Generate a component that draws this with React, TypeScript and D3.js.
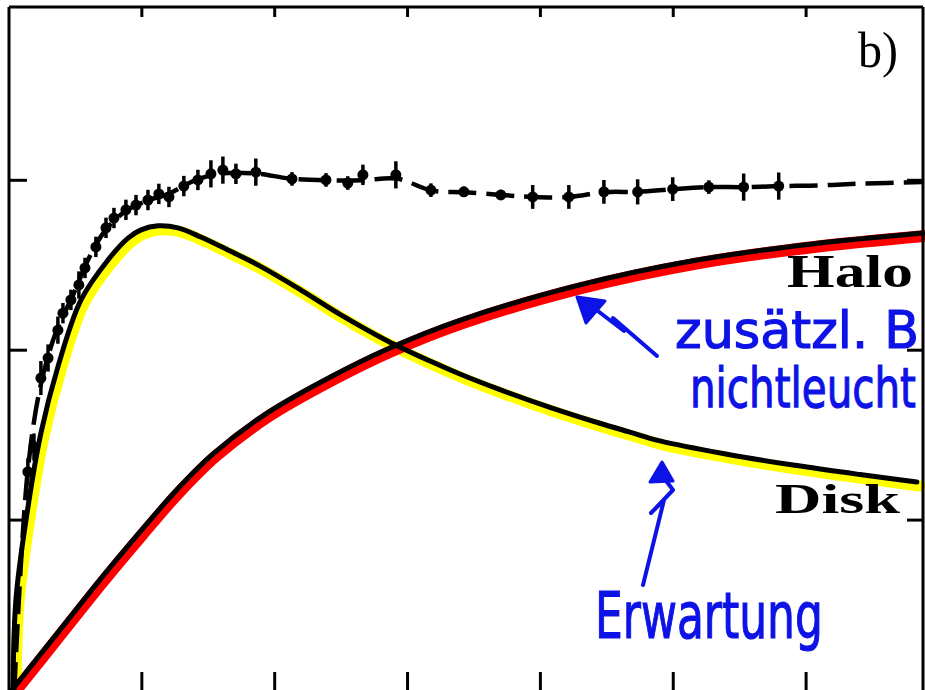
import React, { useLayoutEffect, useRef, useState } from "react";
import * as d3 from "d3";

const W = 925;
const H = 690;

// Measured rotation curve: radius (kpc), circular speed (km/s), error (km/s)
const obsRadius = [
  0.71, 0.94, 1.2, 1.47, 1.84, 2.03, 2.33, 2.63, 2.86, 3.27, 3.65, 3.95, 4.4,
  4.78, 5.23, 5.64, 6.02, 6.58, 7.11, 7.6, 8.05, 8.54, 9.29, 10.65, 11.93,
  12.75, 13.32, 14.56, 15.88, 17.12, 18.51, 19.71, 21.07, 22.39, 23.66, 24.98,
  26.34, 27.65, 28.97,
];
const obsSpeed = [
  64.2, 71.5, 91.8, 97.7, 105.9, 110.9, 114.8, 119.2, 124.2, 130.4, 136.0,
  138.9, 141.3, 142.7, 144.2, 146.0, 145.1, 148.3, 150.1, 151.9, 153.0, 151.9,
  152.4, 150.4, 150.1, 149.2, 151.6, 151.6, 147.1, 146.6, 145.7, 145.1, 145.1,
  146.6, 146.6, 147.4, 148.0, 148.0, 148.3,
];
const obsError = [
  4, 4, 5, 4, 4, 3, 3, 4, 3, 3, 3, 3, 3, 3, 3, 3, 3, 3, 3, 4, 4, 3, 4, 2, 2, 2,
  3, 4, 2, 1.5, 1.5, 3.5, 3.5, 3.5, 3.7, 3.5, 2, 4, 4,
];

// Fitted total rotation curve (dashed)
const totalRadius = [
  0.2, 0.7, 1.2, 1.8, 2.4, 3.0, 3.6, 4.4, 5.2, 6.0, 7.0, 8.0, 9.3, 10.6, 12.0,
  13.3, 14.6, 15.9, 17.1, 18.5, 19.7, 21.1, 22.4, 23.7, 25.0, 26.3, 27.7, 29.0,
  30.5, 32.0, 34.4,
];
const totalSpeed = [
  0, 64, 90, 106, 116, 127, 135, 141, 144, 146, 150, 152, 152, 150.5, 150, 150,
  150.5, 147, 146.5, 145.7, 145.1, 145.1, 146.5, 146.6, 147.4, 148, 148, 148.3,
  148.5, 149, 149.5,
];

// Disk component
const diskRadius = [
  0.15, 0.26, 0.64, 1.2, 1.84, 2.71, 3.72, 4.48, 4.97, 5.61, 6.36, 7.22, 8.24,
  9.37, 10.99, 12.49, 14.23, 15.85, 16.97, 18.48, 20.36, 22.24, 23.37, 24.5,
  27.02, 29.51, 32.03, 34.17,
];
const diskSpeed = [
  0, 26.5, 50.0, 75.6, 95.1, 114.8, 126.5, 133.0, 135.4, 136.6, 136.0, 133.3,
  129.5, 125.1, 117.7, 110.4, 102.8, 96.8, 93.0, 88.4, 83.2, 78.5, 75.9, 73.3,
  69.4, 66.2, 63.4, 61.2,
];

// Halo component
const haloRadius = [
  0.11, 1.92, 3.42, 4.93, 6.3, 7.68, 9.71, 12.19, 14.23, 16.97, 21.38, 25.74,
  30.15, 34.4,
];
const haloSpeed = [
  0, 17.7, 32.4, 46.5, 58.8, 69.5, 81.5, 92.5, 100.3, 108.8, 119.0, 126.3,
  131.2, 134.5,
];

const xTicks = [5, 10, 15, 20, 25, 30];
const yTicks = [50, 100, 150];

const BLUE = "#0d12e6";
const SERIF = "'Liberation Serif', 'Times New Roman', serif";
const HAND = "'DejaVu Sans', 'Noto Sans', sans-serif";

type FitTextProps = {
  x: number;
  y: number;
  width: number;
  text: string;
  fontSize: number;
  fontFamily: string;
  fontWeight?: string;
  fill: string;
  stroke?: string;
  strokeWidth?: number;
};

// Text stretched or squeezed horizontally so it spans the given width
function FitText(p: FitTextProps) {
  const ref = useRef<SVGTextElement>(null);
  const [sx, setSx] = useState(1);
  useLayoutEffect(() => {
    if (ref.current) {
      const len = ref.current.getComputedTextLength();
      if (len > 0) setSx(p.width / len);
    }
  }, [p.width, p.text, p.fontSize]);
  return (
    <text
      ref={ref}
      transform={`translate(${p.x},${p.y}) scale(${sx},1)`}
      fontSize={p.fontSize}
      fontFamily={p.fontFamily}
      fontWeight={p.fontWeight}
      fill={p.fill}
      stroke={p.stroke}
      strokeWidth={p.strokeWidth}
    >
      {p.text}
    </text>
  );
}

export default function App() {
  const x = d3.scaleLinear().domain([0, 34.4]).range([9, 923]);
  const y = d3.scaleLinear().domain([0, 201]).range([H, 7]);

  const zip = (rs: number[], vs: number[]) =>
    rs.map((r, i) => [r, vs[i]] as [number, number]);

  const smooth = d3
    .line<[number, number]>()
    .x((d) => x(d[0]))
    .y((d) => y(d[1]))
    .curve(d3.curveCatmullRom.alpha(0.5));

  const diskPath = smooth(zip(diskRadius, diskSpeed)) || "";
  const haloPath = smooth(zip(haloRadius, haloSpeed)) || "";
  const totalPath = smooth(zip(totalRadius, totalSpeed)) || "";

  const left = x(0);
  const right = x(34.4);
  const top = y(201);
  const bottom = y(0);

  return (
    <div
      style={{
        position: "absolute",
        left: 0,
        top: 0,
        width: W,
        height: H,
        background: "#fff",
      }}
    >
      <svg width={W} height={H} viewBox={`0 0 ${W} ${H}`} style={{ display: "block" }}>
        <rect x={0} y={0} width={W} height={H} fill="#fff" />

        {/* highlighter strokes under the component curves */}
        <path
          d={diskPath}
          transform="translate(3,4)"
          fill="none"
          stroke="#ffff00"
          strokeWidth={11}
          strokeLinecap="round"
          strokeLinejoin="round"
        />
        <path
          d={haloPath}
          transform="translate(2,3)"
          fill="none"
          stroke="#ff0000"
          strokeWidth={12}
          strokeLinecap="round"
          strokeLinejoin="round"
        />

        {/* component curves */}
        <path d={diskPath} fill="none" stroke="#000" strokeWidth={5} strokeLinecap="round" />
        <path d={haloPath} fill="none" stroke="#000" strokeWidth={5} strokeLinecap="round" />

        {/* fitted total curve */}
        <path
          d={totalPath}
          fill="none"
          stroke="#000"
          strokeWidth={4.5}
          strokeDasharray="28 10"
        />

        {/* measured points with error bars */}
        <g fill="#000" stroke="#000">
          {obsRadius.map((r, i) => (
            <g key={i}>
              <line
                x1={x(r)}
                x2={x(r)}
                y1={y(obsSpeed[i] - obsError[i])}
                y2={y(obsSpeed[i] + obsError[i])}
                strokeWidth={3.5}
              />
              <circle cx={x(r)} cy={y(obsSpeed[i])} r={5.5} stroke="none" />
            </g>
          ))}
        </g>

        {/* frame */}
        <g stroke="#000" strokeWidth={3} fill="none">
          <line x1={left} x2={left} y1={top} y2={bottom} />
          <line x1={left} x2={right} y1={top} y2={top} />
          <line x1={right} x2={right} y1={top} y2={bottom} />
          {yTicks.map((t) => (
            <g key={`y${t}`}>
              <line x1={left} x2={left + 18} y1={y(t)} y2={y(t)} />
              <line x1={right} x2={right - 16} y1={y(t)} y2={y(t)} />
            </g>
          ))}
          {xTicks.map((t) => (
            <g key={`x${t}`}>
              <line x1={x(t)} x2={x(t)} y1={top} y2={top + 10} />
              <line x1={x(t)} x2={x(t)} y1={bottom} y2={bottom - 18} />
            </g>
          ))}
        </g>

        {/* printed labels */}
        <FitText x={858} y={67} width={40} text="b)" fontFamily={SERIF} fontSize={50} fill="#000" />
        <FitText x={787} y={287} width={126} text="Halo" fontFamily={SERIF} fontWeight="bold" fontSize={46} fill="#000" />
        <FitText x={775} y={513} width={125} text="Disk" fontFamily={SERIF} fontWeight="bold" fontSize={43} fill="#000" />

        {/* handwritten notes */}
        <FitText x={675} y={348} width={244} text="zusätzl. B" fontFamily={HAND} fontSize={52} fill={BLUE} stroke={BLUE} strokeWidth={1.2} />
        <FitText x={690} y={407} width={226} text="nichtleucht" fontFamily={HAND} fontSize={56} fill={BLUE} stroke={BLUE} strokeWidth={1.2} />
        <FitText x={595} y={638} width={228} text="Erwartung" fontFamily={HAND} fontSize={64} fill={BLUE} stroke={BLUE} strokeWidth={1.2} />

        <g fill="none" stroke={BLUE} strokeWidth={4} strokeLinecap="round" strokeLinejoin="round">
          <path d="M657,356 L613,318 L624,331 L590,305" />
          <path d="M643,585 L664,500 L651,513 L673,490 L664,478" />
        </g>
        <g fill={BLUE} stroke={BLUE} strokeWidth={3} strokeLinejoin="round">
          <path d="M577,297 L605,301 L586,323 Z" />
          <path d="M662,462 L650,482 L673,481 Z" />
        </g>
      </svg>
    </div>
  );
}
